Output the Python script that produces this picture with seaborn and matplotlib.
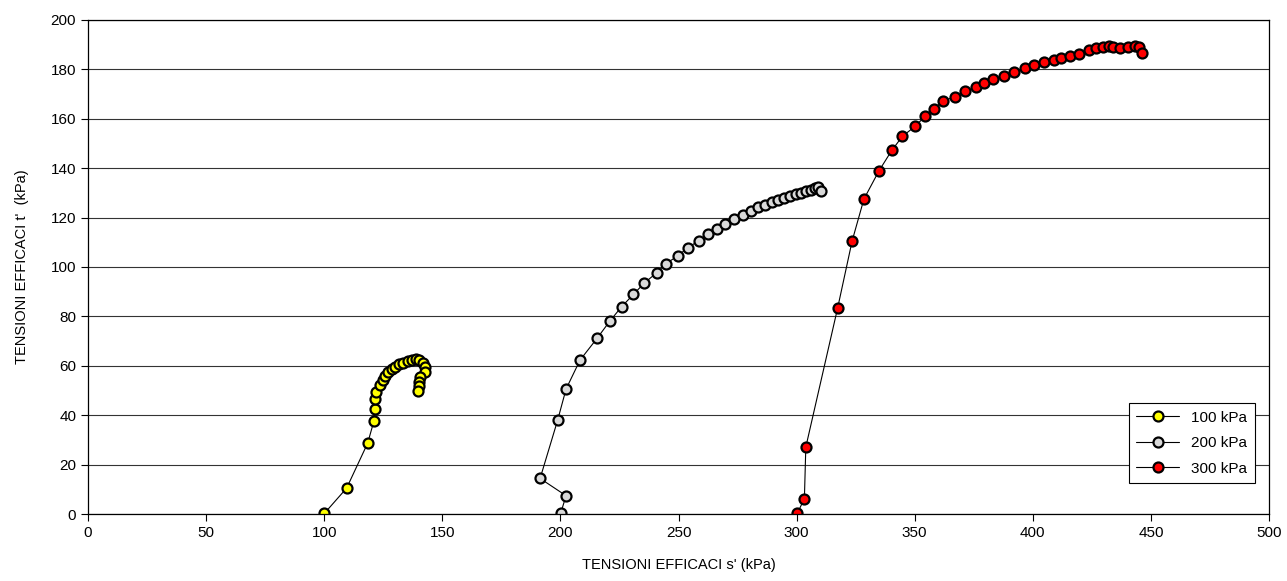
import matplotlib
matplotlib.use("Agg")
import matplotlib.pyplot as plt
import seaborn as sns
import pandas as pd

# Stress paths s'-t' for three confining pressures
s_100 = [100.1, 109.5, 118.4, 121.0, 121.4, 121.3, 122.1, 123.6, 124.7, 125.7, 127.1,
         128.6, 130.0, 131.7, 133.5, 135.3, 137.0, 138.9, 140.3, 141.7, 142.7, 142.7,
         140.6, 140.3, 140.3, 139.8]
t_100 = [0.3, 10.5, 28.7, 37.5, 42.7, 46.4, 49.4, 52.3, 54.4, 55.8, 57.3,
         58.6, 59.6, 60.6, 61.3, 62.0, 62.3, 62.7, 62.3, 61.2, 59.6, 57.3,
         55.3, 53.5, 51.7, 49.7]

s_200 = [200.1, 202.4, 191.4, 198.8, 202.4, 208.3, 215.5, 221.0, 225.9, 230.9, 235.4,
         240.8, 244.6, 249.7, 253.9, 258.7, 262.4, 266.4, 269.7, 273.6, 277.4,
         280.6, 283.5, 286.5, 289.4, 292.0, 294.8, 297.2, 299.6, 301.8, 303.9,
         305.9, 307.6, 309.0, 310.3]
t_200 = [0.3, 7.4, 14.4, 37.9, 50.6, 62.3, 71.1, 78.2, 83.9, 88.9, 93.4,
         97.7, 101.3, 104.5, 107.8, 110.7, 113.3, 115.4, 117.6, 119.3, 121.2,
         122.8, 124.1, 125.1, 126.2, 127.0, 127.8, 128.6, 129.4, 130.1, 130.8,
         131.3, 131.8, 132.2, 130.6]

s_300 = [300.3, 303.3, 303.9, 317.4, 323.5, 328.5, 334.8, 340.3, 344.8, 350.1, 354.4,
         358.3, 361.9, 367.1, 371.3, 376.0, 379.5, 383.3, 387.8, 392.1, 396.7,
         400.6, 404.9, 409.0, 411.8, 415.7, 419.7, 423.9, 426.8, 429.9, 432.4,
         434.1, 436.9, 440.2, 443.3, 445.1, 446.1]
t_300 = [0.3, 6.2, 27.1, 83.5, 110.5, 127.5, 138.8, 147.2, 152.9, 156.9, 161.0,
         164.1, 167.1, 169.0, 171.1, 172.7, 174.5, 176.1, 177.5, 179.0, 180.6,
         181.8, 182.9, 184.0, 184.7, 185.6, 186.4, 188.0, 188.7, 189.1, 189.5,
         189.1, 188.7, 189.1, 189.4, 188.9, 186.7]

series = [
    ("100 kPa", s_100, t_100, "#ffff00"),
    ("200 kPa", s_200, t_200, "#d9d9d9"),
    ("300 kPa", s_300, t_300, "#ff0000"),
]

x_ticks = list(range(0, 501, 50))
y_ticks = list(range(0, 201, 20))


def main():
    sns.set_style("white")
    plt.rcParams["font.family"] = ["Liberation Sans", "DejaVu Sans"]
    plt.rcParams["text.color"] = "black"
    plt.rcParams["axes.labelcolor"] = "black"

    fig = plt.figure(figsize=(12.87, 5.81), dpi=100)
    ax = fig.add_axes([0.0684, 0.1153, 0.9176, 0.8503])

    for name, s, t, face in series:
        df = pd.DataFrame({"s": s, "t": t})
        # estimator=None keeps the path as measured (no averaging of repeated s')
        sns.lineplot(data=df, x="s", y="t", sort=False, estimator=None, ax=ax,
                     color="black", linewidth=0.8, marker="o", markersize=7.2,
                     markerfacecolor=face, markeredgecolor="black",
                     markeredgewidth=1.6, label=name)

    ax.set_xlim(0, 500)
    ax.set_ylim(0, 200)
    ax.set_xticks(x_ticks)
    ax.set_yticks(y_ticks)
    ax.yaxis.grid(True, color="#333333", linewidth=0.8)
    ax.xaxis.grid(False)
    ax.set_axisbelow(True)
    for sp in ax.spines.values():
        sp.set_color("black")
        sp.set_linewidth(0.9)
    ax.tick_params(axis="both", direction="out", length=5, width=0.8,
                   colors="black", labelsize=11, bottom=True, left=True)

    ax.set_xlabel("TENSIONI EFFICACI s' (kPa)", fontsize=10.5, labelpad=13)
    ax.set_ylabel("TENSIONI EFFICACI t'  (kPa)", fontsize=10.5, labelpad=16)

    leg = ax.legend(loc="lower right", bbox_to_anchor=(0.988, 0.062),
                    borderaxespad=0, fontsize=11, fancybox=False,
                    framealpha=1, handlelength=2.8, labelspacing=0.75,
                    borderpad=0.5)
    leg.get_frame().set_edgecolor("black")
    leg.get_frame().set_linewidth(0.8)

    fig.savefig("out.png", dpi=100)


if __name__ == "__main__":
    main()
